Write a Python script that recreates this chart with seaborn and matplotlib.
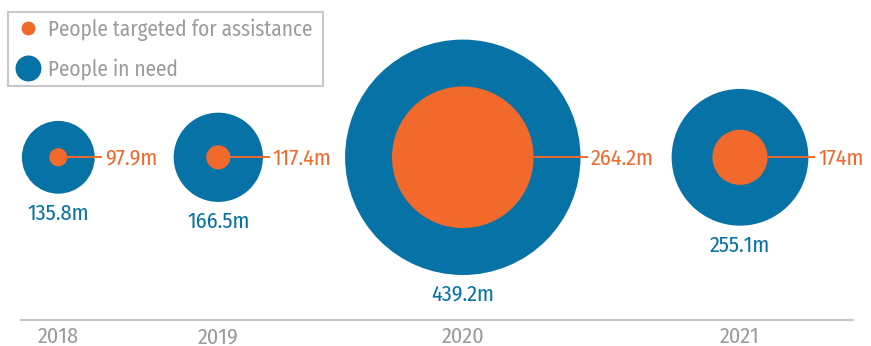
import matplotlib
matplotlib.use("Agg")
import matplotlib.pyplot as plt
import seaborn as sns
import pandas as pd
from matplotlib.lines import Line2D
from matplotlib.patches import Rectangle

# ---- data ----
years = ["2018", "2019", "2020", "2021"]
people_in_need = [135.8, 166.5, 439.2, 255.1]          # millions
people_targeted = [97.9, 117.4, 264.2, 174.0]           # millions
# inner circle size as drawn in the picture (millions-equivalent)
targeted_circle_drawn = [34.0, 45.0, 264.2, 103.0]
need_labels = ["135.8m", "166.5m", "439.2m", "255.1m"]
target_labels = ["97.9m", "117.4m", "264.2m", "174m"]

# ---- layout ----
W, H, DPI = 871, 346, 100
x_pos = [58.3, 218.3, 462.8, 740.0]
cy = 157.3
K = 0.268  # px radius per million

BLUE = "#0672a6"
ORANGE = "#f1692b"
GREY = "#9b9b9b"
FS = 16

sns.set_theme(style="white")
plt.rcParams["font.family"] = ["Fira Sans Condensed", "DejaVu Sans"]

fig = plt.figure(figsize=(W / DPI, H / DPI), dpi=DPI)
ax = fig.add_axes([0, 0, 1, 1])
ax.set_xlim(0, W)
ax.set_ylim(H, 0)
ax.axis("off")

def s_of(r_px):
    return (2 * r_px * 72 / DPI) ** 2

df = pd.DataFrame({
    "year": years,
    "x": x_pos,
    "y": [cy] * 4,
    "need": people_in_need,
    "target": people_targeted,
    "drawn": targeted_circle_drawn,
})
df["r_out"] = df["need"] * K
df["r_in"] = df["drawn"] * K

sns.scatterplot(data=df, x="x", y="y", s=s_of(df["r_out"]), color=BLUE,
                linewidth=0, ax=ax, legend=False, zorder=2)
sns.scatterplot(data=df, x="x", y="y", s=s_of(df["r_in"]), color=ORANGE,
                linewidth=0, ax=ax, legend=False, zorder=3)

for i, row in df.iterrows():
    x0 = row.x + row.r_in
    x1 = row.x + row.r_out + 7
    ax.plot([x0, x1], [cy, cy], color=ORANGE, lw=1.4, zorder=4,
            solid_capstyle="butt")
    ax.text(x1 + 3, cy + 1, target_labels[i], color=ORANGE, fontsize=FS,
            va="center", ha="left")
    ax.text(row.x, cy + row.r_out + 9, need_labels[i], color=BLUE,
            fontsize=FS, va="top", ha="center")
    ax.text(row.x, 343, row.year, color=GREY, fontsize=FS, va="baseline",
            ha="center")

ax.plot([21, 853], [319.5, 319.5], color="#c4c4c4", lw=1.5)

# legend
ax.add_patch(Rectangle((8, 12), 315, 74, fill=False, edgecolor="#c8c8c8",
                       lw=1.5))
handles = [
    Line2D([], [], marker="o", ls="", markersize=10, color=ORANGE,
           markeredgewidth=0),
    Line2D([], [], marker="o", ls="", markersize=18.7, color=BLUE,
           markeredgewidth=0),
]
leg = ax.legend(handles, ["People targeted for assistance", "People in need"],
                loc="upper left", bbox_to_anchor=(9 / W, 1 - 12 / H),
                frameon=False, fontsize=15.3, labelcolor=GREY,
                handlelength=1.2, handletextpad=0.35, labelspacing=0.8,
                borderpad=0.3, borderaxespad=0)

fig.savefig("out.png", dpi=DPI)
